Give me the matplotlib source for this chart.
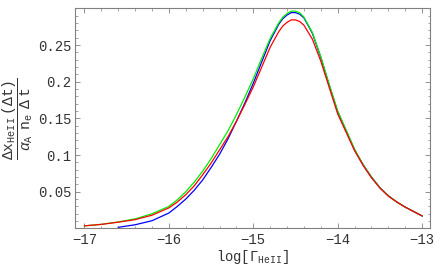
import numpy as np
import matplotlib
matplotlib.use("Agg")
import matplotlib.pyplot as plt
from matplotlib.ticker import MultipleLocator, FixedLocator

plt.rcParams['font.family'] = ['Liberation Mono', 'DejaVu Sans Mono']
plt.rcParams['mathtext.fontset'] = 'custom'
plt.rcParams['mathtext.rm'] = 'Liberation Mono'
plt.rcParams['mathtext.it'] = 'Liberation Mono:italic'

# values
log_gamma = [-17.0, -16.8, -16.6, -16.4, -16.2,
             -16.0, -15.9, -15.8, -15.7, -15.6, -15.5, -15.4, -15.3, -15.2, -15.1,
             -15.0, -14.9, -14.8, -14.7,
             -14.65, -14.6, -14.55, -14.5, -14.45, -14.4,
             -14.3, -14.2, -14.1, -14.0, -13.9, -13.8, -13.7, -13.6, -13.5, -13.4,
             -13.3, -13.2, -13.1, -13.0]

red = [0.0035, 0.0055, 0.0085, 0.012, 0.018,
       0.028, 0.036, 0.046, 0.058, 0.073, 0.089, 0.107, 0.125, 0.146, 0.169,
       0.193, 0.220, 0.247, 0.268,
       0.276, 0.281, 0.2843, 0.2843, 0.282, 0.277,
       0.258, 0.228, 0.192, 0.156, 0.131, 0.106, 0.086, 0.069, 0.055, 0.044,
       0.036, 0.029, 0.023, 0.017]

green = [0.0035, 0.0056, 0.0088, 0.013, 0.020,
         0.030, 0.039, 0.050, 0.063, 0.078, 0.095, 0.114, 0.133, 0.155, 0.179,
         0.204, 0.232, 0.259, 0.280,
         0.288, 0.293, 0.2962, 0.2962, 0.294, 0.288,
         0.267, 0.234, 0.196, 0.160, 0.134, 0.108, 0.087, 0.070, 0.0555, 0.0445,
         0.036, 0.029, 0.023, 0.017]

log_gamma_blue = log_gamma[2:]
blue = [0.0015, 0.005, 0.0105,
        0.021, 0.030, 0.040, 0.052, 0.066, 0.083, 0.101, 0.122, 0.146, 0.171,
        0.198, 0.227, 0.256, 0.278,
        0.286, 0.291, 0.2942, 0.2942, 0.292, 0.287,
        0.266, 0.233, 0.195, 0.159, 0.133, 0.107, 0.087, 0.070, 0.0555, 0.0445,
        0.036, 0.029, 0.023, 0.017]

ytick_vals = [0.05, 0.1, 0.15, 0.2, 0.25]
ytick_labels = ['0.05', '0.1', '0.15', '0.2', '0.25']
xtick_vals = [-17, -16, -15, -14, -13]
xtick_labels = ['\u221217', '\u221216', '\u221215', '\u221214', '\u221213']

fig = plt.figure(figsize=(4.36, 2.70), dpi=100)
ax = fig.add_axes([0.173, 0.154, 0.813, 0.815])

ax.plot(log_gamma_blue, blue, color='#0000ff', lw=0.9)
ax.plot(log_gamma, green, color='#00ee00', lw=0.9)
ax.plot(log_gamma, red, color='#ff0000', lw=0.9)

ax.set_xlim(-17.107, -12.908)
ax.set_ylim(0, 0.3)

ax.xaxis.set_major_locator(FixedLocator(xtick_vals))
ax.set_xticklabels(xtick_labels)
ax.xaxis.set_minor_locator(MultipleLocator(0.2))
ax.yaxis.set_major_locator(FixedLocator(ytick_vals))
ax.set_yticklabels(ytick_labels)
ax.yaxis.set_minor_locator(MultipleLocator(0.01))

for s in ax.spines.values():
    s.set_color('#808080')
    s.set_linewidth(0.8)
ax.tick_params(which='both', direction='in', top=True, right=True, color='#808080',
               labelsize=10, labelcolor='#333333', pad=3)
ax.tick_params(which='major', length=3.4, width=0.6)
ax.tick_params(which='minor', length=1.8, width=0.5)

ax.set_xlabel(r'log[$\Gamma_{\mathrm{HeII}}$]', fontsize=10, color='#333333', labelpad=1)
ax.set_ylabel(r'$\dfrac{\Delta\mathrm{x}_{\mathrm{HeII}}\ (\Delta\mathrm{t})}{\alpha_{\mathrm{A}}\ \ \mathrm{n}_{\mathrm{e}}\ \ \Delta\ \mathrm{t}}$',
              fontsize=10.5, color='#333333', labelpad=2)

fig.savefig('out.png', dpi=100)
